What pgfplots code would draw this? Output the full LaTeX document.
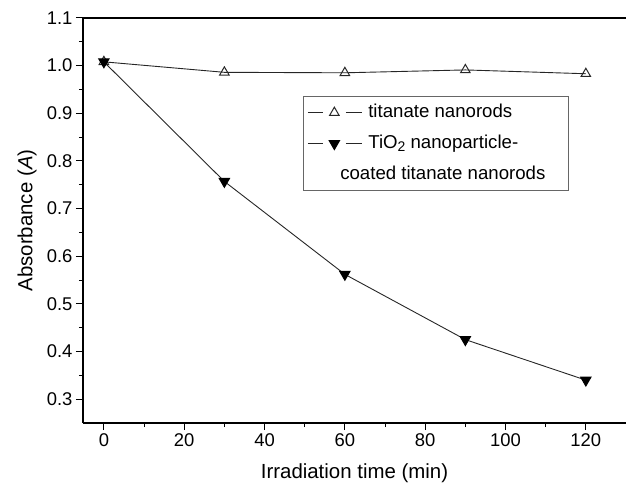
\documentclass[border=0pt]{standalone}
\usepackage{fontspec}
\setmainfont{Liberation Sans}
\usepackage{pgfplots}
\pgfplotsset{compat=1.18}
\begin{document}
\begin{tikzpicture}
\begin{axis}[
  scale only axis, width=543bp, height=405bp,
  xmin=-5.2, xmax=130, ymin=0.25, ymax=1.1,
  axis x line=box, axis y line=left,
  axis line style={-, line width=1.2bp, black},
  xtick pos=left, ytick pos=left,
  xtick={0,20,40,60,80,100,120}, minor x tick num=1,
  ytick={0.3,0.4,0.5,0.6,0.7,0.8,0.9,1.0,1.1}, minor y tick num=1,
  tick align=outside, major tick length=7bp, minor tick length=4bp,
  every tick/.style={black, line width=1bp},
  tick label style={font=\fontsize{18.5}{20}\selectfont},
  /pgf/number format/assume math mode=true,
  yticklabel style={/pgf/number format/fixed, /pgf/number format/fixed zerofill, /pgf/number format/precision=1},
  label style={font=\fontsize{20.5}{24}\selectfont},
  xlabel={Irradiation time (min)},
  ylabel={Absorbance (\textit{A})},
  xlabel style={at={(axis description cs:0.5,-0.125)}, anchor=center},
  ylabel style={at={(axis description cs:-0.103,0.5)}, anchor=center, rotate=0},
  legend style={at={(axis description cs:0.405,0.807)}, anchor=north west, draw=black!60, line width=1bp, fill=white, font=\fontsize{18.7}{22}\selectfont, row sep=10bp, inner xsep=4bp, inner ysep=5.5bp, nodes={inner sep=1bp, text height=14bp, text depth=5bp}, /tikz/every odd column/.append style={column sep=5bp}},
  legend cell align=left,
  legend image code/.code={\draw[mark=none] (0bp,0bp)--(15bp,0bp); \draw[mark=none] (38bp,0bp)--(54bp,0bp); \draw plot coordinates {(26.5bp,0bp)};},
]
\addplot[color=black!85, line width=0.9bp, mark=triangle, mark size=5.5bp, mark options={solid, line width=1bp, fill=white}] coordinates {(0,1.008)(30,0.986)(60,0.985)(90,0.991)(120,0.983)};
\addlegendentry{titanate nanorods}
\addplot[color=black!85, line width=0.9bp, mark=triangle*, mark size=6bp, mark options={solid, rotate=180, fill=black, draw=black}] coordinates {(0,1.008)(30,0.757)(60,0.562)(90,0.425)(120,0.340)};
\addlegendentry{TiO\raisebox{-0.35ex}{\fontsize{14}{16}\selectfont 2} nanoparticle-}
\addlegendimage{empty legend}
\addlegendentry{\hspace*{-28bp}coated titanate nanorods\hspace*{18bp}}
\end{axis}
\pgfresetboundingbox
\path[use as bounding box] (-83bp,-60bp) rectangle (543bp,423bp);
\end{tikzpicture}
\end{document}
